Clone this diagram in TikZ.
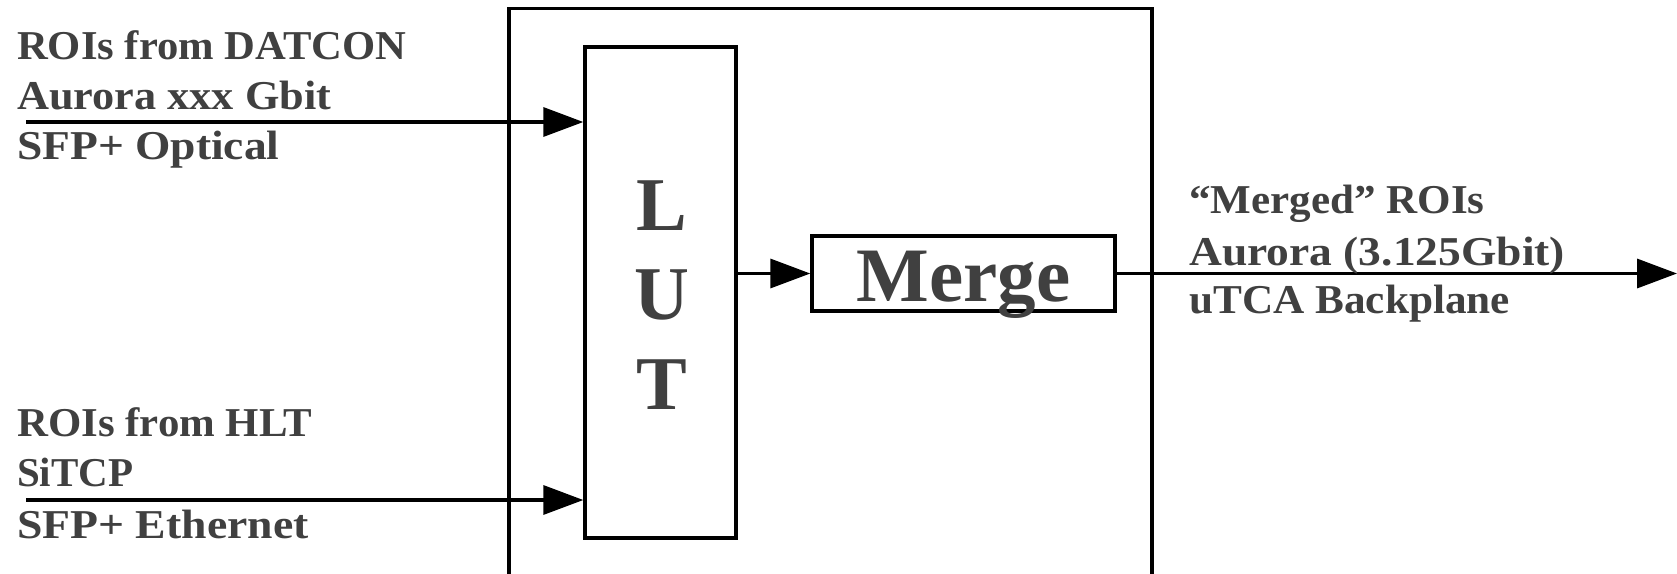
\documentclass[tikz,border=0pt]{standalone}
\usepackage{fontspec}
\setmainfont{Liberation Serif}
\usetikzlibrary{arrows.meta}
\definecolor{inktext}{HTML}{404040}
\tikzset{
  wire/.style={line width=3.4pt, -{Triangle[length=40pt,width=29pt]}},
  frame/.style={draw, line width=3.4pt},
  label/.style={anchor=base west, align=left, text=inktext,
    font=\fontsize{41}{48}\selectfont\bfseries\addfontfeature{FakeStretch=#1}, inner sep=0pt},
  label/.default=1,
  big/.style={anchor=base, text=inktext, font=\fontsize{76}{80}\selectfont\bfseries, inner sep=0pt}
}
\begin{document}
\begin{tikzpicture}[x=1pt, y=-1pt]
  \useasboundingbox (0,0) rectangle (1677,573);
  % enclosing board
  \draw[line width=3.4pt] (509,600) -- (509,8.5) -- (1152,8.5) -- (1152,600);
  % lookup table and merge blocks
  \node[frame, minimum width=151pt, minimum height=491pt, inner sep=0pt] (lut) at (660.5,292.5) {};
  \node[big] (l) at (662,230) {L};
  \node[big] (u) at (662,319) {U};
  \node[big] (t) at (662,409) {T};
  \node[frame, minimum width=303pt, minimum height=75pt, inner sep=0pt] (merge) at (963.5,273.5) {};
  \node[big, font=\fontsize{77}{80}\selectfont\bfseries] (mtext) at (963.5,301) {Merge};
  % inputs and output
  \coordinate (inA) at (26,122);
  \coordinate (inB) at (26,500);
  \coordinate (outR) at (1677,273.5);
  \draw[wire] (inA) -- (lut.west |- inA);
  \draw[wire] (inB) -- (lut.west |- inB);
  \draw[wire] (lut.east |- merge.west) -- (merge.west);
  \draw[wire] (merge.east) -- (outR);
  % labels
  \node[label=1.04] (ta1) at (17,59) {ROIs from DATCON};
  \node[label=1.08] (ta2) at (17,109.5) {Aurora xxx Gbit};
  \node[label=1.11] (ta3) at (17,159) {SFP+ Optical};
  \node[label=1.045] (tb1) at (17,436) {ROIs from HLT};
  \node[label=1.0] (tb2) at (17,486.5) {SiTCP};
  \node[label=1.115] (tb3) at (17,538) {SFP+ Ethernet};
  \node[label=1.05] (tc1) at (1189,213) {“Merged” ROIs};
  \node[label=1.11] (tc2) at (1189,265.5) {Aurora (3.125Gbit)};
  \node[label=1.055] (tc3) at (1189,313.5) {uTCA Backplane};
\end{tikzpicture}
\end{document}
